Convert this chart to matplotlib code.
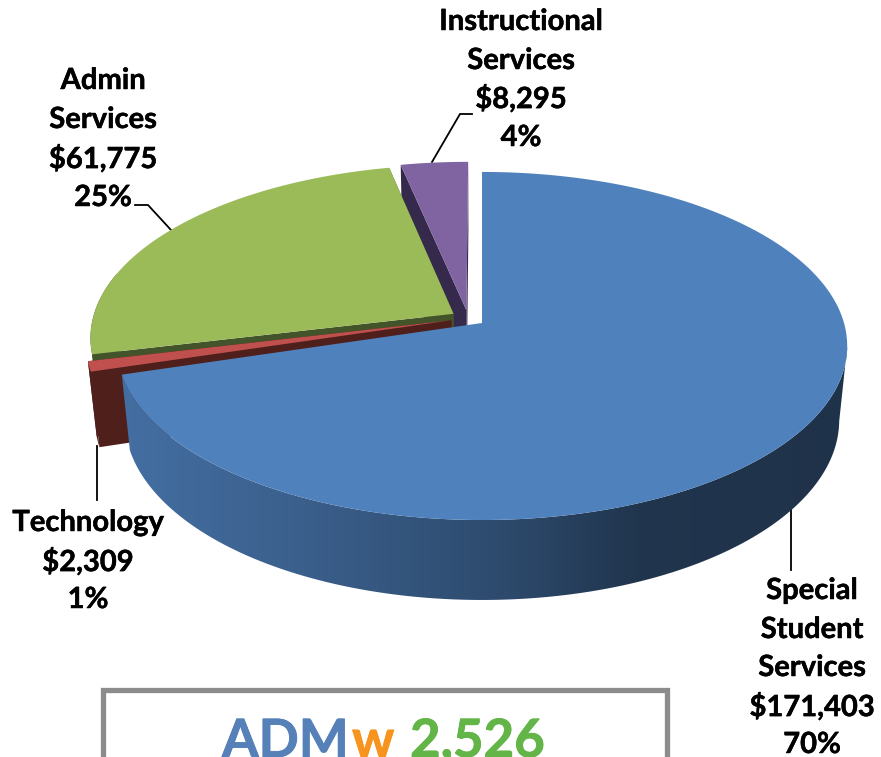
import numpy as np
import matplotlib
matplotlib.use("Agg")
import matplotlib.pyplot as plt
import matplotlib.patheffects as pe
from matplotlib.colors import to_rgb
from matplotlib.patches import Polygon

# ---- data ----
categories = ["Special\nStudent\nServices", "Technology", "Admin\nServices", "Instructional\nServices"]
values = [171403, 2309, 61775, 8295]
percent_labels = ["70%", "1%", "25%", "4%"]
top_colors = ["#4F81BD", "#C0504D", "#9BBB59", "#8064A2"]
cut_colors = ["#2A4A70", "#4F1F1C", "#43532A", "#352A4C"]
total_label = ["ADM", "w", "2,526"]

# ---- projection of the pie plane into pixels ----
W, H = 881, 757
CX, CY = 482.0, 323.0
A, B, K = 171.0, 362.0, 0.132
D, M = 75.5, 0.022
EXPLODE = 0.048


def proj(u, v, z=0.0):
    w = 1 + K * v + M * z
    return CX + B * u / w, CY + (-A * v + D * z) / w


fig = plt.figure(figsize=(W / 100, H / 100), dpi=100)
ax = fig.add_axes([0, 0, 1, 1])
ax.set_xlim(0, W)
ax.set_ylim(H, 0)
ax.axis("off")

fractions = np.array(values, dtype=float) / sum(values)
edges = np.concatenate([[0], np.cumsum(fractions)]) * 2 * np.pi
mids = (edges[:-1] + edges[1:]) / 2
ref = np.array([np.sin(mids[0]), np.cos(mids[0])])


def centre(i):
    return EXPLODE * (np.array([np.sin(mids[i]), np.cos(mids[i])]) - ref)


def draw_wedge(i, z):
    c = centre(i)
    a0, a1 = edges[i], edges[i + 1]
    t = np.linspace(a0, a1, max(int((a1 - a0) * 90), 6))
    us, vs = c[0] + np.sin(t), c[1] + np.cos(t)
    if i == 0:
        # the rim becomes visible where the top surface reaches its right extreme
        xs_top = np.array([proj(a, b)[0] for a, b in zip(us, vs)])
        front = np.arange(len(t)) >= np.argmax(xs_top)
    else:
        front = np.cos(t) < 0.25
    upper = [proj(a, b) for a, b in zip(us[front], vs[front])]
    lower = [proj(a, b, 1) for a, b in zip(us[front], vs[front])]
    if upper:
        rim = Polygon(upper + lower[::-1], closed=True, transform=ax.transData,
                      facecolor=cut_colors[i] if i else "none", edgecolor="none", zorder=z)
        ax.add_patch(rim)
        if i == 0:
            # shading of the blue rim: light at the left, dark towards the right
            xs = np.linspace(0, W, 441)
            f = np.interp(xs, [120, 300, 500, 640, 850], [0.86, 0.74, 0.58, 0.41, 0.39])
            base = np.array(to_rgb(top_colors[0]))
            img = (f[:, None] * base)[None, :, :]
            im = ax.imshow(img, extent=[0, W, H, 0], aspect="auto", zorder=z, interpolation="bilinear")
            im.set_clip_path(rim)
            ax.set_xlim(0, W)
            ax.set_ylim(H, 0)
    # cut faces that look at the viewer (the blue wedge shows none)
    if i:
        for tt in (a0, a1):
            u, v = c[0] + np.sin(tt), c[1] + np.cos(tt)
            face = [proj(c[0], c[1]), proj(u, v), proj(u, v, 1), proj(c[0], c[1], 1)]
            ax.fill(*zip(*face), color=cut_colors[i], lw=0, zorder=z + 0.1)
    # top surface
    top = [proj(c[0], c[1])] + [proj(a, b) for a, b in zip(us, vs)]
    ax.fill(*zip(*top), color=top_colors[i], lw=0, zorder=z + 0.2)


# back to front
for order, i in enumerate([3, 2, 1, 0]):
    draw_wedge(i, 2 + order)

# ---- labels ----
FONT = "Lato"
LABEL_SIZE = 21
BOLDER = [pe.withStroke(linewidth=0.35, foreground="black")]


def label(cx, ys, lines):
    for y, s in zip(ys, lines):
        ax.text(cx, y, s, ha="center", va="center", fontsize=LABEL_SIZE, fontweight="bold",
                family=FONT, color="black", zorder=10, path_effects=BOLDER)


def lines_for(i):
    return categories[i].split("\n") + [f"${values[i]:,}", percent_labels[i]]


label(812, [591, 630, 668, 707, 745], lines_for(0))
label(88, [523, 562, 600], lines_for(1))
label(103, [81, 120, 159, 198], lines_for(2))
label(521, [22, 61, 99, 138], lines_for(3))

# leader lines
for xs, ys in [([135, 148, 171], [205, 205, 230]),
               ([472, 460, 432], [114, 114, 162]),
               ([97, 97], [446, 500]),
               ([791, 791], [510, 570])]:
    ax.plot(xs, ys, color="black", lw=1.3, zorder=1, solid_joinstyle="miter")

# ---- framed total at the bottom, cut off by the picture edge ----
ax.plot([103, 103, 667, 667], [H + 5, 690, 690, H + 5], color="#8C8C8C", lw=3.8,
        solid_joinstyle="miter", zorder=1)
for x, s, col in zip([222, 352, 410], total_label, ["#5580B8", "#F7941E", "#62B546"]):
    ax.text(x, 757, s, ha="left", va="baseline", fontsize=38, fontweight="bold", family=FONT,
            color=col, zorder=10, path_effects=[pe.withStroke(linewidth=0.6, foreground=col)])

fig.savefig("out.png", dpi=100)
